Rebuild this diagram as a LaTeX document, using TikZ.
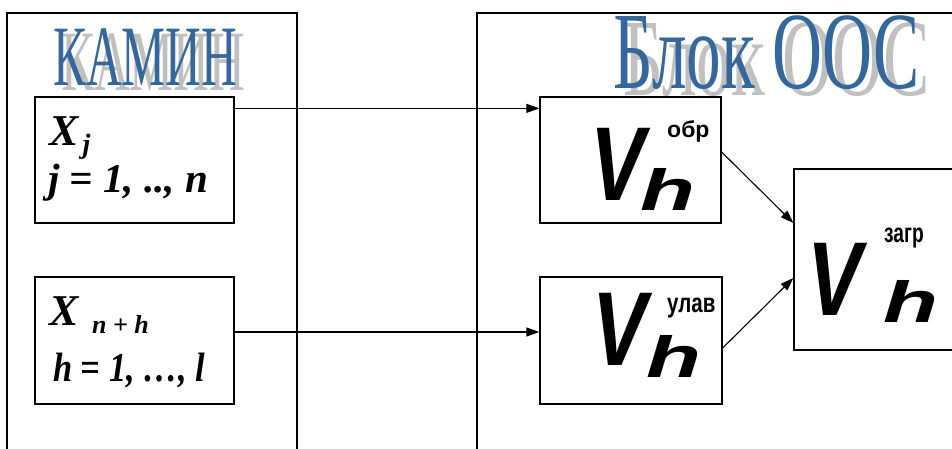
\documentclass[tikz,border=0pt]{standalone}
\usepackage{fontspec}
\setmainfont{Liberation Serif}
\newfontfamily\sansf{Liberation Sans}
\usetikzlibrary{arrows.meta}
\definecolor{titleblue}{RGB}{52,104,156}
\definecolor{shadowgray}{RGB}{192,192,192}
\newcommand{\fsz}[1]{\fontsize{#1}{#1}\selectfont}
\newcommand{\sq}[2]{\scalebox{#1}[1]{#2}}
\begin{document}
\begin{tikzpicture}[x=1pt,y=-1pt,
  frame/.style={line width=1.3pt},
  box/.style={draw,line width=1.3pt,rectangle,inner sep=0pt},
  link/.style={line width=1.1pt,-{Triangle[length=13pt,width=9pt]}},
  txt/.style={inner sep=0pt,anchor=base west},
  mathtxt/.style={txt,font=\bfseries\itshape\fsz{#1}},
  bigv/.style={txt,font=\sansf\bfseries\itshape\fsz{105}},
  bigh/.style={txt,font=\sansf\bfseries\itshape\fsz{58}},
  supr/.style={txt,font=\sansf\bfseries\fsz{#1}},
  title/.style={txt,font=\fsz{#1}}]
\useasboundingbox (0,0) rectangle (952,448);
\clip (0,0) rectangle (952,448);

% outer frames, open at the bottom (and right)
\draw[frame] (7,460) -- (7,13) -- (297,13) -- (297,460);
\draw[frame] (477,460) -- (477,13) -- (960,13);

% titles with drop shadow
\node[title=86,text=shadowgray] (kaminsh) at (61,90) {\sq{0.575}{КАМИН}};
\node[title=86,text=titleblue] (kamin) at (53,85) {\sq{0.575}{КАМИН}};
\node[title=110,text=shadowgray] (oossh) at (623,95) {\sq{0.63}{Блок ООС}};
\node[title=110,text=titleblue] (oos) at (613,88) {\sq{0.63}{Блок ООС}};

% input blocks
\node[box,minimum width=199pt,minimum height=126pt] (xj) at (134.5,160) {};
\node[box,minimum width=199pt,minimum height=127pt] (xnh) at (134.5,340.5) {};

\node[mathtxt=44] (xjA) at (49,145) {X\hspace{4pt}\raisebox{-8pt}{\fsz{28}j}};
\node[mathtxt=41] (xjB) at (48,192) {j = 1, .., n};
\node[mathtxt=44] (xnhA) at (49,325) {X};
\node[mathtxt=26] (xnhS) at (92,333) {n + h};
\node[mathtxt=41] (xnhB) at (53,381) {\sq{0.84}{h = 1, …, l}};

% volume blocks
\node[box,minimum width=181pt,minimum height=126pt] (vobr) at (630.5,160) {};
\node[box,minimum width=182pt,minimum height=127pt] (vulav) at (631,340.5) {};
\node[box,minimum width=220pt,minimum height=181pt] (vzagr) at (904,259.5) {};

\node[bigv] (vobrV) at (590,200) {\sq{0.78}{V}};
\node[bigh] (vobrH) at (640,210) {\sq{1.55}{h}};
\node[supr=23] (vobrS) at (667,137) {обр};

\node[bigv] (vulavV) at (592,365) {\sq{0.78}{V}};
\node[bigh] (vulavH) at (646,377) {\sq{1.55}{h}};
\node[supr=27] (vulavS) at (667,312) {\sq{0.76}{улав}};

\node[bigv] (vzagrV) at (807,315) {\sq{0.78}{V}};
\node[bigh] (vzagrH) at (883,322) {\sq{1.55}{h}};
\node[supr=27] (vzagrS) at (884,242) {\sq{0.71}{загр}};

% connections
\draw[link] ([yshift=-12pt]xj.north east) -- ([yshift=-12pt]vobr.north west);
\draw[link] ([yshift=8.5pt]xnh.east) -- ([yshift=8.5pt]vulav.west);
\draw[link] ([yshift=8pt]vobr.east) -- ([yshift=36.5pt]vzagr.west);
\draw[link] ([yshift=-7.5pt]vulav.east) -- ([yshift=-18.5pt]vzagr.west);
\end{tikzpicture}
\end{document}
